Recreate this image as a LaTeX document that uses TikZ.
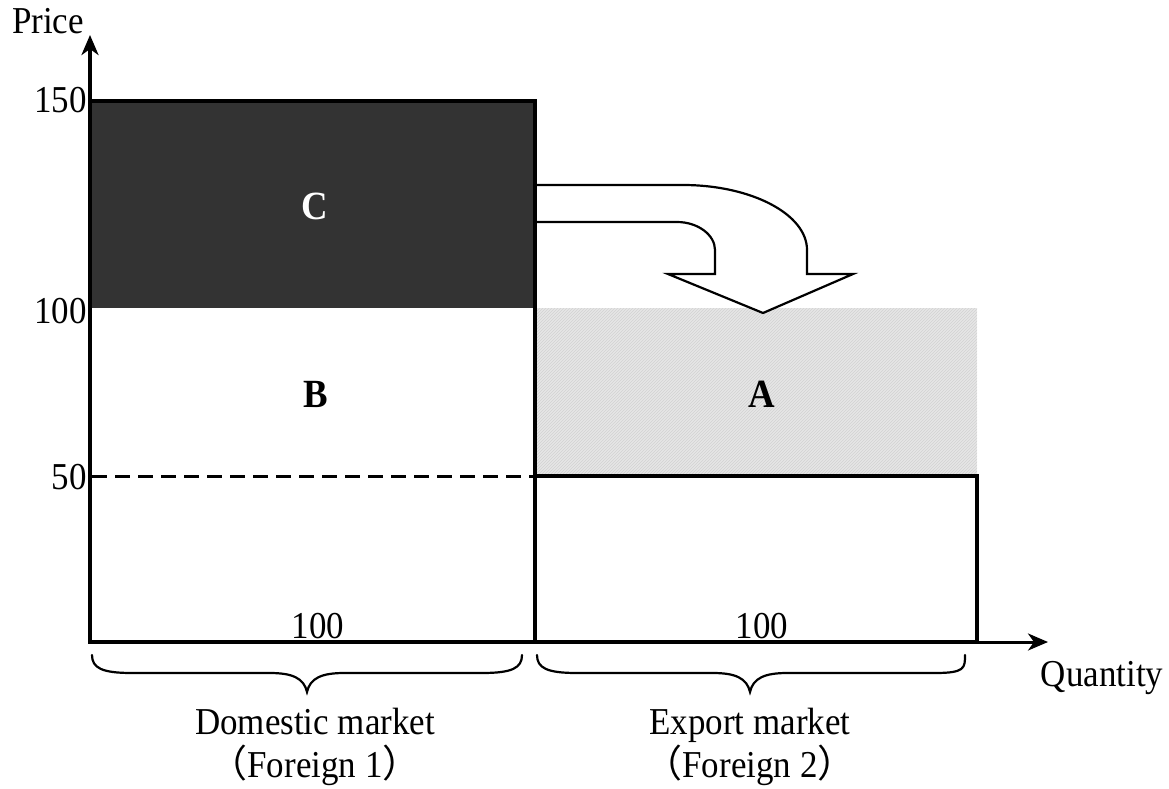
\documentclass[tikz,border=0pt]{standalone}
\usepackage{fontspec}
\setmainfont{Liberation Serif}[FakeStretch=0.92]
\newfontfamily\cjkfont{Noto Sans CJK SC}
\usetikzlibrary{arrows.meta,patterns}
\definecolor{darkfill}{HTML}{333333}
\definecolor{lightfill}{HTML}{E6E6E6}
\tikzset{
  lbl/.style={inner sep=0pt, font=\fontsize{38}{40}\selectfont},
  boldlbl/.style={inner sep=0pt, font=\fontsize{40}{42}\selectfont\bfseries},
  boxline/.style={line width=4.5pt, line cap=rect},
  axisline/.style={line width=3.5pt, -{Stealth[length=20pt,width=17pt,inset=6pt]}},
  bracepath/.style={line width=2.2pt, line cap=round},
  bigarrow/.style={line width=2.2pt, fill=white, line join=miter},
}
\newcommand{\fp}[1]{{\cjkfont （}#1{\cjkfont ）}}
\begin{document}
\begin{tikzpicture}[x=1pt,y=-1pt]
\useasboundingbox (0,0) rectangle (1169,788);
% coordinates
\coordinate (O) at (90,642);
\coordinate (ytip) at (90,35);
\coordinate (xend) at (977,642);
\coordinate (xtip) at (1048,642);
% fills
\fill[darkfill] (90,101) rectangle (535,308);
\fill[lightfill] (537,308) rectangle (977,474);
\fill[pattern=north east lines, pattern color=gray!35] (537,308) rectangle (977,474);
% dashed line
\draw[line width=3pt, dash pattern=on 15pt off 8pt] (92,476) -- (533,476);
% axes
\draw[axisline] (O) -- (ytip);
\draw[axisline, line width=3pt] (xend) -- (xtip);
% boxes
\draw[boxline] (90,101) -- (535,101) -- (535,642);
\draw[boxline] (90,642) -- (977,642) -- (977,476) -- (535,476);
% curved arrow
\filldraw[bigarrow] (537,185) -- (683,185) .. controls (751,185) and (807,214) .. (807,250)
  -- (807,274) -- (853,274) -- (763,313) -- (668,274) -- (715,274) -- (715,250)
  .. controls (715,235) and (698,222) .. (677,222) -- (537,222);
% braces
\draw[bracepath] (92,655) .. controls (92,668) and (102,673) .. (132,673) -- (270,673)
  .. controls (292,673) and (304,678) .. (307,692) .. controls (310,678) and (322,673) .. (344,673)
  -- (482,673) .. controls (512,673) and (522,668) .. (522,655);
\draw[bracepath] (537,655) .. controls (537,668) and (547,673) .. (577,673) -- (713,673)
  .. controls (735,673) and (747,678) .. (750,692) .. controls (753,678) and (765,673) .. (787,673)
  -- (935,673) .. controls (965,673) and (965,668) .. (965,655);
% labels
\node[lbl, anchor=base] (price) at (48,33) {Price};
\node[lbl, anchor=base east] (p150) at (87,112) {150};
\node[lbl, anchor=base east] (p100) at (87,323) {100};
\node[lbl, anchor=base east] (p50) at (87,489) {50};
\node[lbl, anchor=base] (q1) at (318,638) {100};
\node[lbl, anchor=base] (q2) at (762,638) {100};
\node[lbl, anchor=base] (qty) at (1102,686) {Quantity};
\node[boldlbl, anchor=base, text=white] (C) at (315,219) {C};
\node[boldlbl, anchor=base] (B) at (316,407) {B};
\node[boldlbl, anchor=base] (A) at (762,407) {A};
\node[lbl, anchor=base] (dom) at (315,734) {Domestic market};
\node[lbl, anchor=base] (f1) at (315,777) {\fp{Foreign 1}};
\node[lbl, anchor=base] (exp) at (750,734) {Export market};
\node[lbl, anchor=base] (f2) at (750,777) {\fp{Foreign 2}};
\end{tikzpicture}
\end{document}
